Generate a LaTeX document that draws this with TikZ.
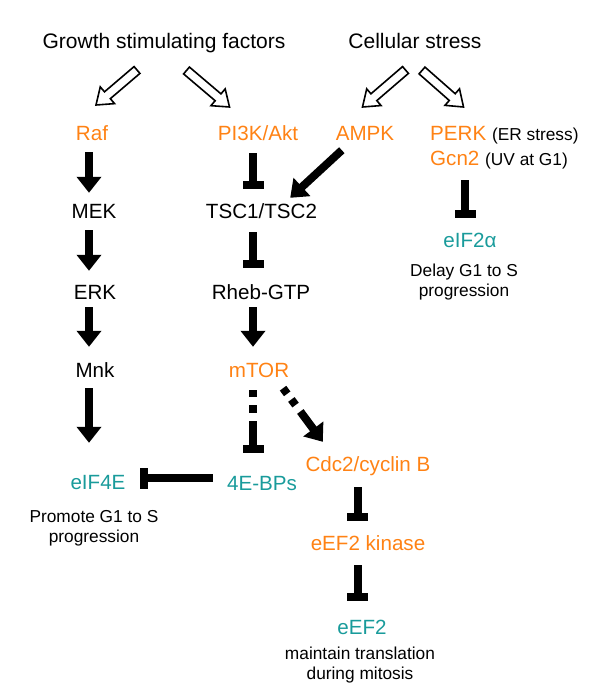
\documentclass[tikz,border=0pt]{standalone}
\usepackage{fontspec}
\setmainfont{Liberation Sans}
\usetikzlibrary{arrows.meta,calc}
\definecolor{orng}{RGB}{255,130,20}
\definecolor{tealc}{RGB}{25,155,155}
\begin{document}
\begin{tikzpicture}[x=1pt,y=-1pt,
 lbl/.style={inner sep=0pt, font=\fontsize{20.6}{24}\selectfont, text height=14.7pt, text depth=0pt},
 ttl/.style={inner sep=0pt, font=\fontsize{21}{25}\selectfont, text height=15pt, text depth=0pt},
 note/.style={inner sep=0pt, font=\fontsize{17.3}{20.5}\selectfont, align=center},
 small/.style={font=\fontsize{17.3}{20}\selectfont},
 act/.style={line width=8pt, -{Triangle[length=16pt,width=24pt]}},
 inh/.style={line width=8pt, -{Rectangle[length=8pt,width=21pt]}},
 hollow/.style={draw=black, line width=1.6pt, fill=white, line join=miter}
]
\useasboundingbox (0,0) rectangle (600,700);

% titles
\node[ttl] (gsf) at (164,41) {Growth stimulating factors};
\node[ttl] (cs) at (415,41) {Cellular stress};

% nodes
\node[lbl, text=orng] (raf) at (92,133) {Raf};
\node[lbl, text=orng] (pi3k) at (258,133) {PI3K/Akt};
\node[lbl, text=orng] (ampk) at (365,133) {AMPK};
\node[lbl, anchor=west] (perk) at (430,133) {\textcolor{orng}{PERK} {\fontsize{17.3}{20}\selectfont (ER stress)}};
\node[lbl, anchor=west] (gcn2) at (430,158) {\textcolor{orng}{Gcn2} {\fontsize{17.3}{20}\selectfont (UV at G1)}};
\node[lbl] (mek) at (94,211) {MEK};
\node[lbl] (tsc) at (261.5,211) {TSC1/TSC2};
\node[lbl, text=tealc] (eif2a) at (470,240) {eIF2α};
\node[note] (delay) at (464,282) {Delay G1 to S\\progression};
\node[lbl] (erk) at (95,292) {ERK};
\node[lbl] (rheb) at (261,292) {Rheb-GTP};
\node[lbl] (mnk) at (95,370) {Mnk};
\node[lbl, text=orng] (mtor) at (259,370) {mTOR};
\node[lbl, text=orng] (cdc2) at (368,464) {Cdc2/cyclin B};
\node[lbl, text=tealc] (eif4e) at (98,482) {eIF4E};
\node[lbl, text=tealc] (ebp) at (262,483) {4E-BPs};
\node[note] (promote) at (94,528) {Promote G1 to S\\progression};
\node[lbl, text=orng] (eef2k) at (368,543) {eEF2 kinase};
\node[lbl, text=tealc] (eef2) at (362,627) {eEF2};
\node[note] (maint) at (360,665) {maintain translation\\during mitosis};

% hollow arrows
\coordinate (s1) at (137,70);   \coordinate (t1) at (96,105);
\coordinate (s2) at (186.5,70.5); \coordinate (t2) at (229.5,107);
\coordinate (s3) at (405.5,70); \coordinate (t3) at (362.5,107);
\coordinate (s4) at (422,70.5); \coordinate (t4) at (463.5,107);
\foreach \s/\t in {s1/t1,s2/t2,s3/t3,s4/t4}{
  \coordinate (hb) at ($(\t)!15pt!(\s)$);
  \draw[hollow] ($(\s)!4.5pt!90:(\t)$) -- ($(hb)!4.5pt!90:(\t)$) -- ($(hb)!11pt!90:(\t)$)
     -- (\t) -- ($(hb)!11pt!-90:(\t)$) -- ($(hb)!4.5pt!-90:(\t)$) -- ($(\s)!4.5pt!-90:(\t)$) -- cycle;
}

% columns / rows for connectors
\coordinate (colA) at (89,0);
\coordinate (colB) at (253,0);
\coordinate (colC) at (357.5,0);
\coordinate (colD) at (465,0);
\coordinate (rowE) at (0,478);

% left pathway
\draw[act, shorten <=11.65pt, shorten >=10.65pt] (raf.south -| colA) -- (mek.north -| colA);
\draw[act, shorten <=11.65pt, shorten >=13.65pt] (mek.south -| colA) -- (erk.north -| colA);
\draw[act, shorten <=7.65pt, shorten >=15.65pt] (erk.south -| colA) -- (mnk.north -| colA);
\draw[act, shorten <=10.65pt, shorten >=31.65pt] (mnk.south -| colA) -- (eif4e.north -| colA);

% middle pathway
\draw[inh, shorten <=12.65pt, shorten >=14.65pt] (pi3k.south -| colB) -- (tsc.north -| colB);
\draw[inh, shorten <=13.65pt, shorten >=16.65pt] (tsc.south -| colB) -- (rheb.north -| colB);
\draw[act, shorten <=7.65pt, shorten >=15.65pt] (rheb.south -| colB) -- (mtor.north -| colB);
\draw[inh, dash pattern=on 7pt off 8pt on 8pt off 8pt on 80pt, shorten <=12.65pt, shorten >=22.65pt] (mtor.south -| colB) -- (ebp.north -| colB);
\draw[act, dash pattern=on 7pt off 7pt on 7pt off 8pt on 80pt] ([xshift=-6.3pt,yshift=-10.65pt]mtor.south east) -- ([xshift=17.4pt,yshift=14.65pt]cdc2.north west);
\draw[inh, shorten <=14pt, shorten >=14.5pt] (ebp.west |- rowE) -- (eif4e.east |- rowE);
\draw[act] ([xshift=6.2pt,yshift=-9.65pt]ampk.south west) -- ([xshift=-27pt,yshift=5.65pt]tsc.north east);

% right pathway
\draw[inh, shorten <=15.65pt, shorten >=14.65pt] (cdc2.south -| colC) -- (eef2k.north -| colC);
\draw[inh, shorten <=14.65pt, shorten >=18.65pt] (eef2k.south -| colC) -- (eef2.north -| colC);
\draw[inh, shorten <=14.65pt, shorten >=14.65pt] (gcn2.south -| colD) -- (eif2a.north -| colD);
\end{tikzpicture}
\end{document}
